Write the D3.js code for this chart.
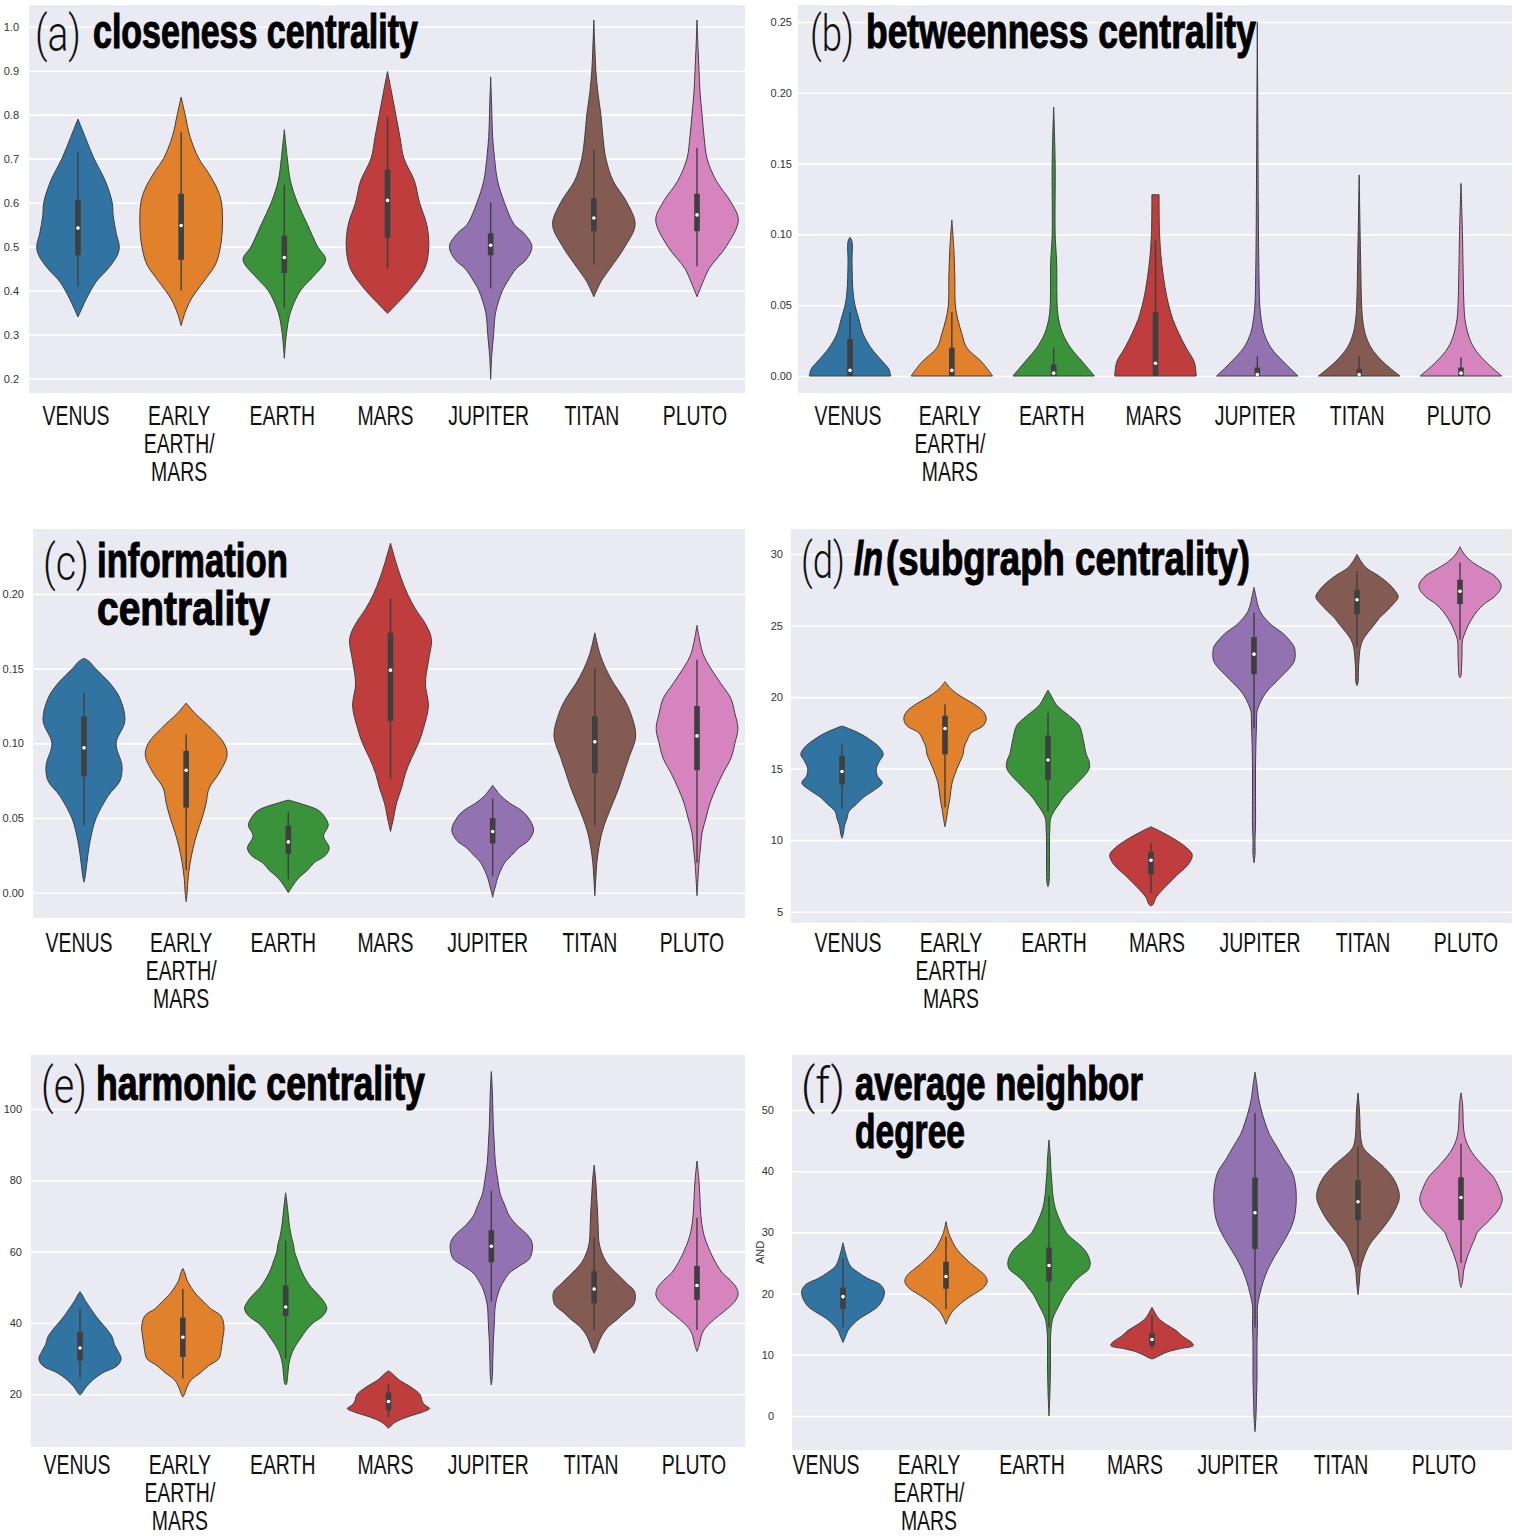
<!DOCTYPE html>
<html>
<head>
<meta charset="utf-8">
<script src="https://cdn.jsdelivr.net/npm/d3@7"></script>
<style>
  body { margin: 0; background: #fff; }
  text { font-family: "Liberation Sans", Arial, sans-serif; }
</style>
</head>
<body>
<svg id="chart"></svg>
<script>
// categories and colours
const planets = ["VENUS", "EARLY EARTH/MARS", "EARTH", "MARS", "JUPITER", "TITAN", "PLUTO"];
const planetLines = [["VENUS"], ["EARLY", "EARTH/", "MARS"], ["EARTH"], ["MARS"], ["JUPITER"], ["TITAN"], ["PLUTO"]];
const palette = ["#3274a1", "#e1812c", "#3a923a", "#c03d3e", "#9372b2", "#845b53", "#d684bd"];

// violin outlines: [value, relative density]
// box stats: [whisker low, q1, median, q3, whisker high]

// (a) closeness centrality
const closenessTicks = [0.2, 0.3, 0.4, 0.5, 0.6, 0.7, 0.8, 0.9, 1.0];
const closenessShape = [
  [[0.34,0],[0.36,4],[0.38,8],[0.42,18],[0.45,30],[0.48,39],[0.50,41],[0.53,38],[0.57,35],[0.60,34],[0.65,27],[0.70,16],[0.75,7],[0.79,0]],
  [[0.32,0],[0.35,4],[0.38,10],[0.40,16],[0.43,26],[0.46,35],[0.50,40],[0.55,42],[0.60,41],[0.63,37],[0.67,27],[0.70,18],[0.75,9],[0.80,4],[0.84,0]],
  [[0.246,0],[0.30,2],[0.35,6],[0.40,16],[0.43,28],[0.47,41],[0.50,33],[0.55,23],[0.60,13],[0.65,6],[0.70,3],[0.766,0]],
  [[0.348,0],[0.37,9],[0.40,21],[0.45,36],[0.50,40],[0.55,38],[0.60,31],[0.65,26],[0.70,16],[0.75,12],[0.80,8],[0.85,4],[0.898,0]],
  [[0.198,0],[0.25,1],[0.30,3],[0.35,5],[0.40,12],[0.42,17],[0.45,26],[0.47,36],[0.50,42],[0.53,34],[0.55,24],[0.60,14],[0.65,7],[0.70,4],[0.75,2],[0.82,1],[0.886,0]],
  [[0.386,0],[0.42,7],[0.45,16],[0.50,31],[0.55,41],[0.60,33],[0.65,19],[0.70,12],[0.75,9],[0.80,7],[0.85,4],[0.90,2],[0.95,1],[1.015,0]],
  [[0.386,0],[0.42,6],[0.45,12],[0.50,29],[0.56,41],[0.60,34],[0.65,19],[0.70,10],[0.75,7],[0.80,5],[0.85,3],[0.90,2],[0.95,1],[1.015,0]]
];
const closenessBox = [
  [0.41,0.48,0.542,0.606,0.715], [0.40,0.47,0.548,0.62,0.76], [0.36,0.44,0.475,0.525,0.64],
  [0.45,0.52,0.605,0.675,0.795], [0.405,0.48,0.503,0.53,0.60], [0.46,0.535,0.565,0.61,0.72],
  [0.455,0.535,0.572,0.62,0.725]
];

// (b) betweenness centrality
const betweennessTicks = [0, 0.05, 0.10, 0.15, 0.20, 0.25];
const betweennessShape = [
  [[0,41],[0.005,39],[0.01,33],[0.02,21],[0.03,13],[0.04,9],[0.05,5],[0.06,3],[0.08,2],[0.095,2],[0.098,0]],
  [[0,41],[0.01,30],[0.02,15],[0.03,10],[0.04,6],[0.05,3.5],[0.07,3],[0.09,2],[0.11,0]],
  [[0,41],[0.01,29],[0.02,17],[0.03,9],[0.04,5],[0.05,3.5],[0.08,3],[0.10,1.5],[0.15,1.5],[0.19,0]],
  [[0,40],[0.01,38],[0.02,30],[0.03,23],[0.04,17],[0.05,13],[0.06,10],[0.08,6],[0.10,4],[0.128,3.5]],
  [[0,42],[0.01,27],[0.02,14],[0.03,7],[0.04,4],[0.05,2.5],[0.08,1.5],[0.12,1],[0.25,0]],
  [[0,41],[0.01,24],[0.02,12],[0.03,6],[0.04,3.5],[0.05,2.5],[0.08,1.5],[0.142,0]],
  [[0,41],[0.01,25],[0.02,13],[0.03,7],[0.04,4],[0.05,3],[0.08,2],[0.10,1.5],[0.136,0]]
];
const betweennessBox = [
  [0,0,0.004,0.026,0.045], [0,0,0.004,0.02,0.045], [0,0,0.002,0.008,0.02], [0,0,0.009,0.045,0.096],
  [0,0,0.001,0.006,0.014], [0,0,0.001,0.005,0.014], [0,0,0.002,0.006,0.013]
];

// (c) information centrality
const informationTicks = [0, 0.05, 0.10, 0.15, 0.20];
const informationShape = [
  [[0.007,0],[0.01,1],[0.02,3],[0.03,5],[0.04,8],[0.05,12.5],[0.065,25],[0.075,37],[0.085,39],[0.10,33],[0.115,42],[0.13,37],[0.14,27],[0.15,12],[0.155,5],[0.157,0]],
  [[-0.006,0],[0,1],[0.01,2],[0.02,4],[0.03,7],[0.04,11],[0.05,16],[0.06,20],[0.07,23],[0.08,33],[0.092,41],[0.10,38],[0.11,25],[0.12,9],[0.127,0]],
  [[0,0],[0.005,5],[0.01,11],[0.015,20],[0.02,27],[0.025,39],[0.03,43],[0.038,37],[0.045,42],[0.05,39],[0.055,32],[0.06,11],[0.062,0]],
  [[0.041,0],[0.05,3],[0.06,6],[0.07,11],[0.08,15],[0.09,21],[0.10,28],[0.11,33],[0.125,38],[0.14,35],[0.155,38],[0.17,41],[0.18,35],[0.19,25],[0.20,17],[0.21,11],[0.22,6],[0.234,0]],
  [[-0.003,0],[0,1],[0.005,3],[0.01,5],[0.02,12],[0.025,19],[0.03,26],[0.035,36],[0.042,41],[0.05,36],[0.055,29],[0.06,17],[0.065,8],[0.072,0]],
  [[-0.002,0],[0.01,1],[0.02,2],[0.03,4],[0.04,7],[0.05,12],[0.06,18],[0.07,24],[0.08,29],[0.09,34],[0.105,41],[0.12,36],[0.13,29],[0.14,19],[0.15,11],[0.16,5],[0.174,0]],
  [[-0.002,0],[0.02,2],[0.03,3.5],[0.04,5],[0.05,9],[0.06,13],[0.07,19],[0.08,26],[0.09,34],[0.10,38],[0.11,41],[0.12,38],[0.13,34],[0.14,24],[0.15,14],[0.16,6],[0.179,0]]
];
const informationBox = [
  [0.045,0.078,0.097,0.118,0.134], [0.015,0.057,0.082,0.095,0.106], [0.009,0.026,0.034,0.045,0.054],
  [0.076,0.115,0.149,0.174,0.197], [0.011,0.033,0.041,0.05,0.063], [0.045,0.08,0.101,0.118,0.15],
  [0.02,0.082,0.105,0.125,0.156]
];

// (d) ln(subgraph centrality)
const subgraphTicks = [5, 10, 15, 20, 25, 30];
const subgraphShape = [
  [[10.13,0],[10.5,1.5],[11,2.5],[11.5,5],[12,7],[12.5,14.5],[13,22],[13.5,33],[14,41],[14.5,36],[15,35],[15.5,38],[16,42],[16.5,38],[17,29],[17.5,17],[17.98,0]],
  [[10.94,0],[11.5,1.5],[12,2.5],[13,5],[14,7],[15,12],[15.5,15],[16,18],[16.5,19],[17,22],[17.5,26],[18,38],[18.5,41],[19,38],[19.5,29],[20,17],[20.5,7],[21.08,0]],
  [[6.75,0],[7,1],[8,1.5],[9,1.5],[10,1.5],[11,2],[11.5,2.5],[12,6],[12.5,11],[13,16],[13.5,23],[14,30],[14.5,37],[15,42],[15.5,42],[16,39],[17,36],[18,32],[18.5,25],[19,16],[19.5,8],[20,4],[20.49,0]],
  [[5.4,0],[5.5,2],[6,5],[6.5,11],[7,18],[7.5,25],[8,33],[8.5,39],[9,41],[9.5,35],[10,25],[10.5,12.5],[10.94,0]],
  [[8.42,0],[9,1],[10,1],[11,1.5],[13,1.5],[15,1.5],[17,2],[18,2.5],[19,3],[19.5,5.5],[20,9],[20.5,14],[21,21],[21.5,28],[22,35],[22.5,40],[23,41],[23.5,40],[24,35],[24.5,28],[25,18],[25.5,11],[26,6],[26.5,3.5],[27,2],[27.67,0]],
  [[20.8,0],[21,1],[22,1.5],[23,2.5],[23.5,3.5],[24,6],[24.5,11],[25,17],[25.5,22.5],[26,30],[26.5,37],[27,42],[27.5,38],[28,31],[28.5,21.5],[29,10],[29.5,4],[29.98,0]],
  [[21.35,0],[21.5,1],[22,1.5],[23,2],[23.5,2],[24,2.5],[24.5,5],[25,8],[25.5,12],[26,17],[26.5,24],[27,34],[27.5,40],[27.8,41],[28,40],[28.5,34],[29,22],[29.5,11],[30,4],[30.51,0]]
];
const subgraphBox = [
  [12.2,13.9,14.8,15.9,16.7], [12.3,16,17.8,18.7,19.5], [12,14.2,15.6,17.3,18.9], [6.3,7.6,8.6,9.2,9.8],
  [17.8,21.6,23,24.2,25.9], [23.5,25.8,26.8,27.5,28.8], [24,26.5,27.4,28.2,29.4]
];

// (e) harmonic centrality
const harmonicTicks = [20, 40, 60, 80, 100];
const harmonicShape = [
  [[19.8,0],[20,1],[22,6],[24,13],[26,23],[28,38],[30,42],[32,39],[34,35],[36,33],[38,28],[40,22],[42,16],[44,11],[46,6],[48,2],[48.8,0]],
  [[19.2,0],[20,1.5],[22,4],[24,8],[26,17],[28,25],[30,35],[32,37],[34,38],[36,39],[39,40],[42,37],[44,27],[46,20],[48,13],[50,8],[52,4],[54,2],[55.3,0]],
  [[22.6,0],[23,1],[25,2],[28,3],[30,4.5],[32,7],[34,11],[36,16],[38,21],[40,28],[42,38],[44,42],[46,39],[48,33],[50,26],[52,21],[54,17],[56,14],[58,11.5],[60,9],[62,8],[64,6],[68,3.5],[72,2],[76.5,0]],
  [[10.5,0],[11,2],[12,6],[13,13],[14,23],[15,34.5],[16,42],[17,37],[18,34.5],[20,32],[22,23],[24,11],[26,3],[26.6,0]],
  [[22.6,0],[25,1],[30,1.5],[35,2],[40,3],[45,4],[48,6.5],[50,9],[52,13],[54,18],[56,28],[58,38],[61,41],[63,40],[65,35],[67,27],[70,18],[73,13.5],[76,9],[80,6.5],[85,4],[90,3],[95,2],[100,1.5],[105,1],[110.5,0]],
  [[31.5,0],[33,2.5],[35,5],[37,8.5],[39,14],[41,22.5],[43,30],[45,38],[47,40],[49,39],[51,32],[53,25],[55,18],[57,12],[60,7],[63,4.5],[66,4],[70,3.5],[75,2.5],[80,1.5],[84.3,0]],
  [[32,0],[34,2.5],[36,4],[38,7],[40,13.5],[42,22],[44,31],[46,38.5],[48,42],[50,40],[52,34],[54,26],[56,21],[58,17],[60,13.5],[63,9],[66,6],[70,4],[75,3],[80,2],[85.4,0]]
];
const harmonicBox = [
  [24.5,29.5,33,37.5,44], [24.5,30.5,36,41.5,49.5], [30,42,44.5,50.5,63], [13.5,15.5,18,20.5,23],
  [46,57,61.5,66,77], [38,45.5,49.5,54.5,64], [38,46.5,50.5,56,69.5]
];

// (f) average neighbor degree
const neighborTicks = [0, 10, 20, 30, 40, 50];
const neighborShape = [
  [[12,0],[13,2.5],[14,5],[15,10],[16,17],[17,27],[18,35],[19.5,40],[20.5,40.5],[21.5,36.5],[22.5,24],[23.5,14.6],[24.5,7.3],[26,3.5],[28.3,0]],
  [[15,0],[16,2.5],[17,6],[18,12],[19,19.5],[20,29],[21,38],[22,41.5],[23,39],[24,32],[25,24.4],[26,18],[27,12],[28,8],[29,5],[30,2.5],[31.75,0]],
  [[0,0],[4,1],[8,1.5],[12,1.5],[14,2],[16,4],[18,10],[20,16.6],[21,21.5],[22,26],[23,33],[24,40.5],[25,42],[26,40.5],[27,37],[28,31],[29,23.4],[30,17.5],[32,11],[34,6.3],[36,4],[38,3],[40,2],[42,1.5],[45.1,0]],
  [[9.3,0],[9.5,3],[10,9],[10.5,16],[11,28],[11.5,41.5],[12,40],[13,31],[14,24],[15,14],[16,6.3],[17,2.5],[17.75,0]],
  [[-2.55,0],[0,1],[3,1.5],[6,2],[9,2],[12,2],[15,2.5],[18,2.5],[20,5],[22,8.3],[24,13],[26,19.5],[28,27],[30,34],[32,39],[35,41.5],[38,40.5],[40,37],[42,29],[44,22],[46,14.6],[48,10],[50,6.3],[52,3.5],[54,2],[56.2,0]],
  [[19.8,0],[22,1.5],[24,2.5],[26,6.3],[28,12],[30,22],[32,31.7],[34,39],[35.5,42.4],[37,41.5],[39,35.6],[41,24.4],[42,17],[43,9.8],[44,4.9],[46,2.5],[48,2],[50,1.5],[52.8,0]],
  [[21,0],[22,1.5],[24,2.9],[26,6.3],[28,11],[29,13.6],[30,16],[32,28],[34,38],[35.5,40.5],[37,38],[39,32],[41,21],[43,11],[45,4.9],[47,2.5],[49,2],[51,1.5],[52.8,0]]
];
const neighborBox = [
  [14.5,17.5,19.5,21,25.8], [17.5,20.8,22.8,25.2,29.3], [14.5,22,24.6,27.5,36], [11,11.5,12.5,13.5,16.5],
  [14.5,27.3,33.2,39,49.5], [24.5,32,35,38.5,44], [25,32,35.7,39,44.5]
];

// panel layout (pixels in the 1514x1536 page)
const panels = [
  { shape: closenessShape, box: closenessBox, ticks: closenessTicks, fmt: ".1f",
    rect: [29, 5, 745, 393], yAnchor: [[0.2, 378.5], [1.0, 26.7]], band: [26.4, 748.6], tickPad: 10,
    labelShift: -2, labelY: 425,
    tag: { t: "(a)", x: 35, y: 51, w: 46 },
    title: [{ x: 93, y: 48, w: 325, t: "closeness centrality" }] },
  { shape: betweennessShape, box: betweennessBox, ticks: betweennessTicks, fmt: ".2f",
    rect: [798, 5, 1512, 393], yAnchor: [[0, 376], [0.25, 22]], band: [799.1, 1511.9], tickPad: 6,
    labelShift: -2, labelY: 425,
    tag: { t: "(b)", x: 810, y: 51, w: 44 },
    title: [{ x: 866, y: 48, w: 390, t: "betweenness centrality" }] },
  { shape: informationShape, box: informationBox, ticks: informationTicks, fmt: ".2f",
    rect: [33, 529, 745, 918], yAnchor: [[0, 892.7], [0.2, 594]], band: [32.9, 748.1], tickPad: 9,
    labelShift: -5, labelY: 952,
    tag: { t: "(c)", x: 43, y: 580, w: 46 },
    title: [{ x: 97, y: 577, w: 191, t: "information" },
            { x: 97, y: 625, w: 173, t: "centrality" }] },
  { shape: subgraphShape, box: subgraphBox, ticks: subgraphTicks, fmt: "d",
    rect: [791, 529, 1512, 923], yAnchor: [[5, 911.7], [30, 554]], band: [790.5, 1511.5], tickPad: 8,
    labelShift: 6, labelY: 952,
    tag: { t: "(d)", x: 801, y: 578, w: 44 },
    title: [{ x: 854, y: 575, w: 29, t: "ln", italic: true },
            { x: 886, y: 575, w: 364, t: "(subgraph centrality)" }] },
  { shape: harmonicShape, box: harmonicBox, ticks: harmonicTicks, fmt: "d",
    rect: [31, 1055, 745, 1447], yAnchor: [[20, 1394.3], [100, 1109]], band: [28.6, 748.4], tickPad: 9,
    labelShift: -3, labelY: 1474,
    tag: { t: "(e)", x: 41, y: 1103, w: 46 },
    title: [{ x: 96, y: 1100, w: 329, t: "harmonic centrality" }] },
  { shape: neighborShape, box: neighborBox, ticks: neighborTicks, fmt: "d",
    rect: [792, 1055, 1512, 1450], yAnchor: [[0, 1416], [50, 1110]], band: [791.5, 1512.5], tickPad: 18,
    labelShift: -17, labelY: 1474, yLabel: "AND",
    tag: { t: "(f)", x: 801, y: 1103, w: 44 },
    title: [{ x: 855, y: 1100, w: 288, t: "average neighbor" },
            { x: 855, y: 1148, w: 110, t: "degree" }] }
];

const W = 1514, H = 1536;
const edge = "#3f3f3f";
const lineGap = 28;

const svg = d3.select("#chart").attr("width", W).attr("height", H);
svg.append("rect").attr("width", W).attr("height", H).attr("fill", "#fff");

// squeeze a text horizontally so that it spans the width seen in the picture
function fitText(sel, x, y, w) {
  const natural = sel.node().getComputedTextLength();
  sel.attr("transform", `translate(${x},${y}) scale(${w / natural},1)`);
}

panels.forEach(p => {
  const [x0, y0, x1, y1] = p.rect;
  const g = svg.append("g");

  g.append("rect")
    .attr("x", x0).attr("y", y0)
    .attr("width", x1 - x0).attr("height", y1 - y0)
    .attr("fill", "#eaeaf2");

  const y = d3.scaleLinear()
    .domain([p.yAnchor[0][0], p.yAnchor[1][0]])
    .range([p.yAnchor[0][1], p.yAnchor[1][1]]);

  const x = d3.scaleBand()
    .domain(planets)
    .range(p.band)
    .paddingInner(0.2)
    .paddingOuter(0.1);

  // y axis: white grid lines plus tick labels
  const axis = g.append("g")
    .attr("transform", `translate(${x0},0)`)
    .call(d3.axisLeft(y)
      .tickValues(p.ticks)
      .tickFormat(d3.format(p.fmt))
      .tickSize(-(x1 - x0))
      .tickPadding(p.tickPad));
  axis.select(".domain").remove();
  axis.selectAll(".tick line").attr("stroke", "#fff").attr("stroke-width", 1.6);
  axis.selectAll(".tick text")
    .attr("fill", "#333")
    .style("font-size", "11px")
    .style("font-family", "'Liberation Sans', Arial, sans-serif");

  if (p.yLabel) {
    g.append("text")
      .attr("transform", `translate(764,${(y0 + y1) / 2}) rotate(-90)`)
      .attr("text-anchor", "middle")
      .attr("fill", "#333")
      .style("font-size", "11px")
      .text(p.yLabel);
  }

  // violins
  planets.forEach((name, i) => {
    const pts = p.shape[i];
    const cx = x(name) + x.bandwidth() / 2;
    const w = d3.scaleLinear()
      .domain([0, d3.max(pts, d => d[1])])
      .range([0, x.bandwidth() / 2]);

    const area = d3.area()
      .y(d => y(d[0]))
      .x0(d => cx - w(d[1]))
      .x1(d => cx + w(d[1]))
      .curve(d3.curveCatmullRom);

    g.append("path")
      .attr("d", area(pts))
      .attr("fill", palette[i])
      .attr("stroke", edge)
      .attr("stroke-width", 1)
      .attr("stroke-linejoin", "round");

    const [lo, q1, med, q3, hi] = p.box[i];
    g.append("line")
      .attr("x1", cx).attr("x2", cx)
      .attr("y1", y(hi)).attr("y2", y(lo))
      .attr("stroke", edge)
      .attr("stroke-width", 1.4);
    g.append("rect")
      .attr("x", cx - 2.8).attr("width", 5.6)
      .attr("y", y(q3)).attr("height", Math.max(1, y(q1) - y(q3)))
      .attr("fill", edge);
    g.append("circle")
      .attr("cx", cx).attr("cy", y(med))
      .attr("r", 1.8)
      .attr("fill", "#fff");
  });

  // category labels under the panel
  planets.forEach((name, i) => {
    const cx = x(name) + x.bandwidth() / 2 + p.labelShift;
    planetLines[i].forEach((line, k) => {
      g.append("text")
        .attr("transform", `translate(${cx},${p.labelY + k * lineGap}) scale(0.72,1)`)
        .attr("text-anchor", "middle")
        .attr("fill", "#111")
        .style("font-size", "27px")
        .text(line);
    });
  });

  // panel letter and title
  const tag = g.append("text")
    .attr("fill", "#111")
    .style("font-family", "Roboto, 'Liberation Sans', sans-serif")
    .style("font-weight", 300)
    .style("font-size", "50px")
    .text(p.tag.t);
  fitText(tag, p.tag.x, p.tag.y, p.tag.w);

  p.title.forEach(line => {
    const t = g.append("text")
      .attr("fill", "#000")
      .attr("stroke", "#000")
      .attr("stroke-width", 1.1)
      .style("font-weight", "bold")
      .style("font-style", line.italic ? "italic" : "normal")
      .style("font-size", "48px")
      .text(line.t);
    fitText(t, line.x, line.y, line.w);
  });
});
</script>
</body>
</html>
